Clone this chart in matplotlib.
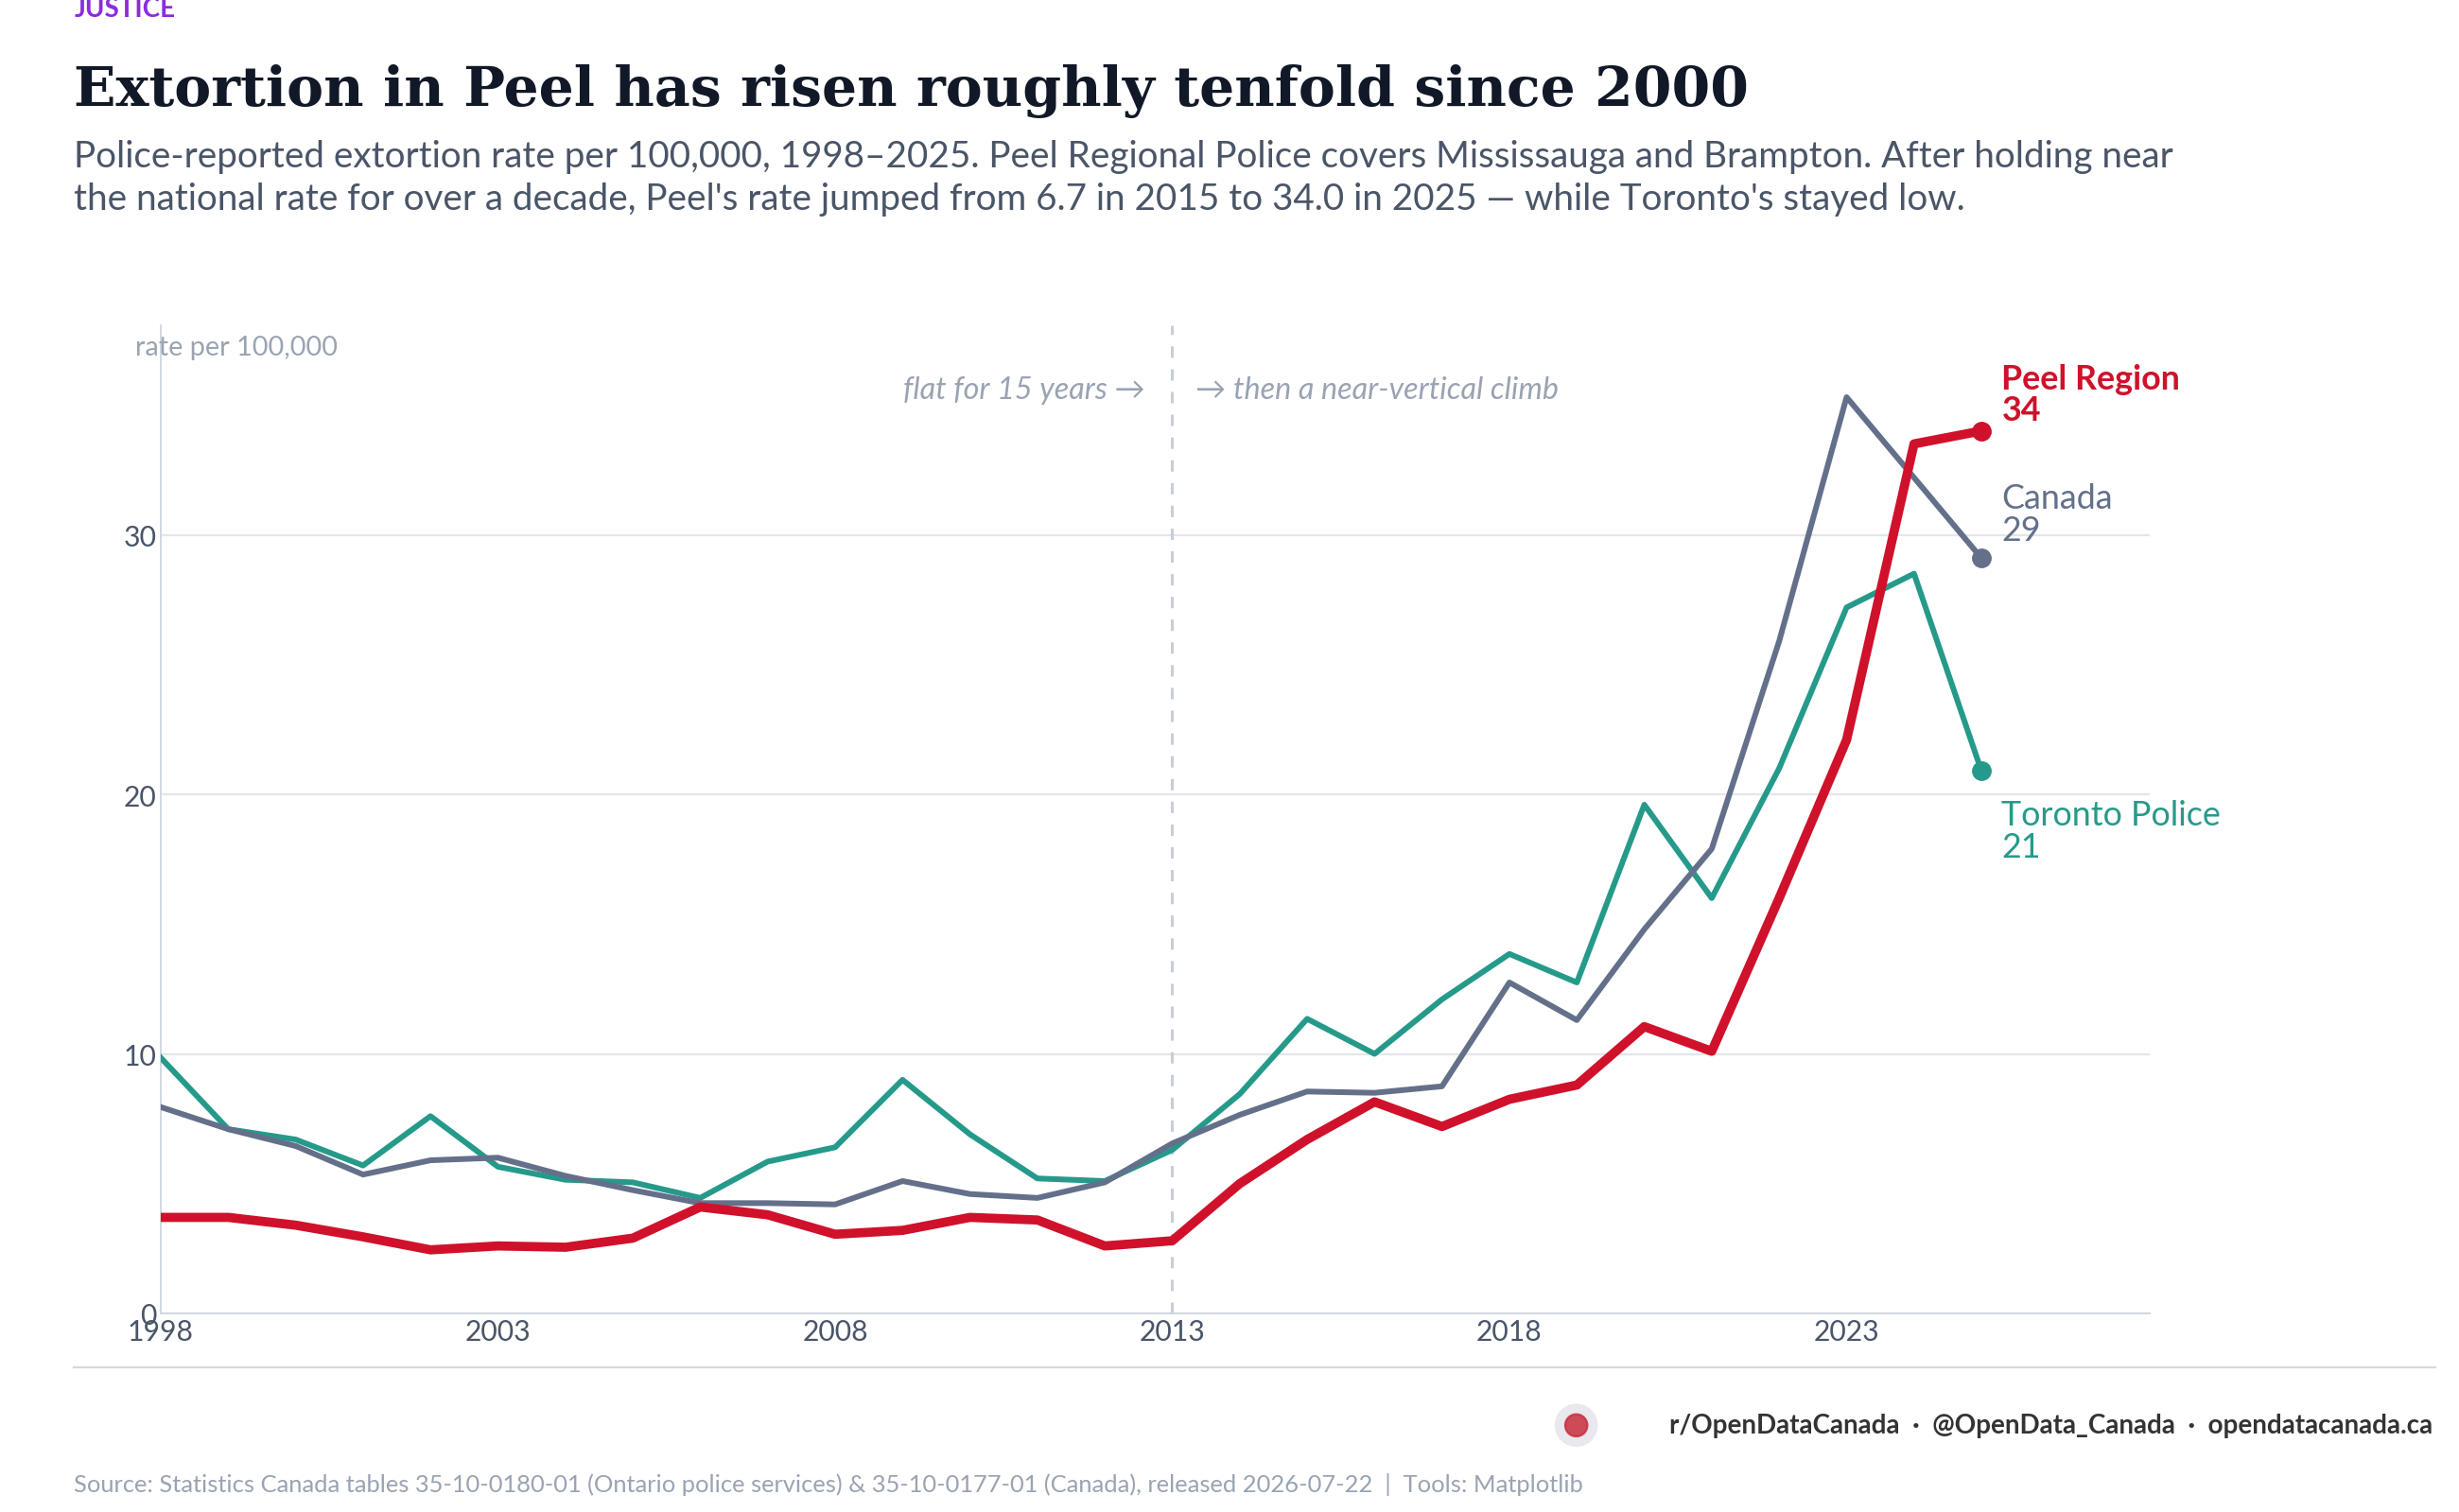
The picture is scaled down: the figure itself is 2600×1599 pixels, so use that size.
import matplotlib
matplotlib.use("Agg")
import matplotlib.pyplot as plt
from matplotlib.lines import Line2D
from matplotlib.patches import Ellipse

years = list(range(1998, 2026))
peel = [3.7,3.7,3.4,2.95,2.45,2.6,2.55,2.9,4.1,3.8,3.05,3.2,3.7,3.6,2.6,2.8,5.0,6.7,8.15,7.2,8.25,8.8,11.05,10.1,16.0,22.1,33.5,34.0]
canada = [7.95,7.1,6.45,5.35,5.9,6.0,5.3,4.75,4.25,4.25,4.2,5.1,4.6,4.45,5.05,6.55,7.65,8.55,8.5,8.75,12.75,11.3,14.8,17.9,25.9,35.3,32.2,29.1]
toronto = [9.85,7.1,6.7,5.7,7.6,5.65,5.15,5.05,4.45,5.85,6.4,9.0,6.9,5.2,5.1,6.3,8.45,11.35,10.0,12.1,13.85,12.75,19.6,16.0,21.0,27.2,28.5,20.9]
xticks = [1998, 2003, 2008, 2013, 2018, 2023]
yticks = [0, 10, 20, 30]

plt.rcParams['font.family'] = ['Lato', 'DejaVu Sans']
W, H = 1560, 960
fig = plt.figure(figsize=(W/100, H/100), dpi=2600/15.6)
def fx(x): return x / W
def fy(y): return 1 - y / H

ax = fig.add_axes([fx(102), fy(834), fx(1364-102), (834-207)/H])
RED, GRAY, TEAL = '#d0112b', '#64708a', '#269a8a'
ax.plot(years, toronto, color=TEAL, lw=2.6, zorder=3)
ax.plot(years, canada, color=GRAY, lw=2.6, zorder=3)
ax.plot(years, peel, color=RED, lw=4.2, zorder=4)
for s, c in [(toronto, TEAL), (canada, GRAY), (peel, RED)]:
    ax.plot(years[-1], s[-1], 'o', color=c, ms=8, zorder=5)
ax.set_xlim(1998, 2027.5)
ax.set_ylim(0, 38.07)
ax.set_xticks(xticks)
ax.set_yticks(yticks)
ax.grid(axis='y', color='#e3e6eb', lw=1)
ax.set_axisbelow(True)
for sp in ['top', 'right']:
    ax.spines[sp].set_visible(False)
for sp in ['left', 'bottom']:
    ax.spines[sp].set_color('#cfd5df')
ax.tick_params(length=0, labelsize=13, colors='#4a5568', pad=2)
ax.axvline(2013, color='#c8ced8', ls=(0, (4, 4)), lw=1.3)
ax.text(2012.6, 35.6, 'flat for 15 years →', style='italic', color='#9aa3b2', fontsize=14, ha='right', va='center')
ax.text(2013.35, 35.6, '→ then a near-vertical climb', style='italic', color='#9aa3b2', fontsize=14, ha='left', va='center')
fig.text(fx(86), fy(221), 'rate per 100,000', color='#9aa3b2', fontsize=12.5, ha='left', va='center')
ax.text(2025.3, 35.4, 'Peel Region\n34', color=RED, fontsize=15.5, fontweight='bold', va='center', linespacing=1.0)
ax.text(2025.3, 30.8, 'Canada\n29', color=GRAY, fontsize=15.5, va='center', linespacing=1.05)
ax.text(2025.3, 18.6, 'Toronto Police\n21', color=TEAL, fontsize=15.5, va='center', linespacing=1.05)

fig.text(fx(47), fy(6), 'JUSTICE', color='#8a2be2', fontsize=12, fontweight='bold', va='center')
fig.text(fx(47), fy(58), 'Extortion in Peel has risen roughly tenfold since 2000', family='DejaVu Serif',
         fontweight='bold', fontsize=25.3, color='#111827', va='center')
fig.text(fx(47), fy(113), "Police-reported extortion rate per 100,000, 1998–2025. Peel Regional Police covers Mississauga and Brampton. After holding near\nthe national rate for over a decade, Peel's rate jumped from 6.7 in 2015 to 34.0 in 2025 — while Toronto's stayed low.",
         fontsize=16.7, color='#4a5568', va='center', linespacing=1.3)
fig.add_artist(Line2D([fx(47), fx(1545)], [fy(868), fy(868)], color='#d5d9e0', lw=1))
fig.add_artist(Ellipse((fx(1000), fy(905)), 26/W, 26/H, transform=fig.transFigure, color='#e8e8ee'))
fig.add_artist(Ellipse((fx(1000), fy(905)), 14/W, 14/H, transform=fig.transFigure, color='#c9303e', alpha=0.85))
fig.text(fx(1543), fy(905), 'r/OpenDataCanada  ·  @OpenData_Canada  ·  opendatacanada.ca', fontsize=12,
         fontweight='bold', color='#333333', ha='right', va='center')
fig.text(fx(47), fy(942), 'Source: Statistics Canada tables 35-10-0180-01 (Ontario police services) & 35-10-0177-01 (Canada), released 2026-07-22  |  Tools: Matplotlib',
         fontsize=11, color='#9aa3b2', va='center')
fig.savefig('out.png', dpi=2600/15.6)
